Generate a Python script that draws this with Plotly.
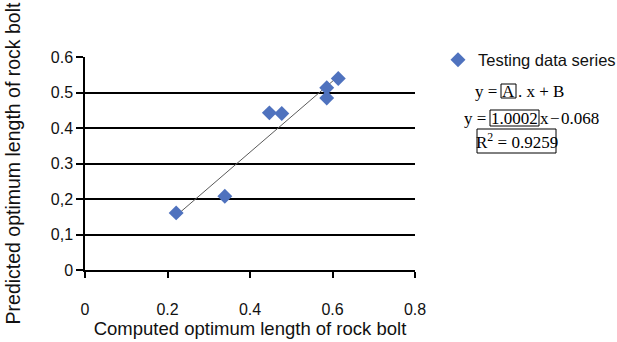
import plotly.graph_objects as go

# Data
computed = [0.221, 0.339, 0.447, 0.477, 0.586, 0.586, 0.614]
predicted = [0.161, 0.208, 0.443, 0.441, 0.514, 0.485, 0.540]
fit_A = 1.0002
fit_B = -0.068
r_squared = 0.9259

x_ticks = [0, 0.2, 0.4, 0.6, 0.8]
x_tick_labels = ["0", "0.2", "0.4", "0.6", "0.8"]
y_ticks = [0, 0.1, 0.2, 0.3, 0.4, 0.5, 0.6]
y_tick_labels = ["0", "0,1", "0,2", "0.3", "0.4", "0.5", "0.6"]

W, H = 617, 342
L, R, T, B = 85, 202, 57, 72
PW, PH = W - L - R, H - T - B


def px(x):
    return (x - L) / PW


def py(y):
    return (H - B - y) / PH


fit_x = [min(computed), max(computed)]
fit_y = [fit_A * v + fit_B for v in fit_x]

fig = go.Figure()
fig.add_trace(go.Scatter(
    x=fit_x, y=fit_y, mode="lines",
    line=dict(color="#5a5a5a", width=1),
    showlegend=False, hoverinfo="skip"))
fig.add_trace(go.Scatter(
    x=computed, y=predicted, mode="markers",
    name="Testing data series",
    marker=dict(symbol="diamond", size=11.5, color="#4F72BE",
                line=dict(width=0))))

sans = "Liberation Sans, Arial, sans-serif"
serif = "Liberation Serif, Times New Roman, serif"

fig.update_layout(
    width=W, height=H,
    margin=dict(l=L, r=R, t=T, b=B, autoexpand=False),
    paper_bgcolor="white", plot_bgcolor="white",
    font=dict(family=sans, size=16, color="#111111"),
    showlegend=True,
    legend=dict(xref="container", yref="container",
                x=438 / W, y=1 - 60 / H, xanchor="left", yanchor="middle",
                font=dict(family=sans, size=16.5, color="#111111"),
                bgcolor="rgba(0,0,0,0)", borderwidth=0),
    xaxis=dict(range=[0, 0.8], tickvals=x_ticks, ticktext=x_tick_labels,
               automargin=False,
               showgrid=False, zeroline=False, showline=True,
               linecolor="black", linewidth=1.5,
               ticks="outside", ticklen=6, tickcolor="black", tickwidth=1.5,
               ticklabelstandoff=18,
               tickfont=dict(family=sans, size=16, color="#111111"),
               title=dict(text="Computed optimum length of rock bolt",
                          font=dict(family=sans, size=18.5, color="#111111"),
                          standoff=4)),
    yaxis=dict(range=[0, 0.6005], tickvals=y_ticks, ticktext=y_tick_labels,
               automargin=False,
               showgrid=True, gridcolor="black", gridwidth=1.5,
               zeroline=False, showline=True,
               linecolor="black", linewidth=1.5,
               ticks="outside", ticklen=7, tickcolor="black", tickwidth=1.5,
               tickfont=dict(family=sans, size=16, color="#111111"),
               title=dict(text="Predicted optimum length of rock bolt",
                          font=dict(family=sans, size=19.5, color="#111111"),
                          standoff=25)),
)

eq_font = dict(family=serif, size=17, color="black")
ann = [
    # line 1: y = [A]. x + B
    dict(text="y =", x=px(499), y=py(91), xanchor="right"),
    dict(text="A", x=px(508.5), y=py(91), xanchor="center"),
    dict(text=". x + B", x=px(516), y=py(91), xanchor="left"),
    # line 2: y = [1.0002]x − 0.068
    dict(text="y =", x=px(488), y=py(118), xanchor="right"),
    dict(text=f"{fit_A:.4f}", x=px(514.5), y=py(118), xanchor="center"),
    dict(text=f"x\u200a\u2212\u200a{abs(fit_B):.3f}", x=px(538), y=py(118), xanchor="left"),
    # line 3: R^2 box
    dict(text=f"R<sup>2</sup> = {r_squared}", x=px(516.5), y=py(141), xanchor="center"),
]
for a in ann:
    fig.add_annotation(xref="paper", yref="paper", yanchor="middle",
                       showarrow=False, font=eq_font, **a)

boxes = [(501, 84, 516, 98), (490, 110, 539, 126), (477, 129, 556, 153)]
for x0, y0, x1, y1 in boxes:
    fig.add_shape(type="rect", xref="paper", yref="paper",
                  x0=px(x0), x1=px(x1), y0=py(y1), y1=py(y0),
                  line=dict(color="black", width=1), fillcolor="rgba(0,0,0,0)")

fig.write_html(
    "out.html",
    config={"displayModeBar": False},
    post_script="document.body.style.margin='0';document.body.style.overflow='hidden';",
)
